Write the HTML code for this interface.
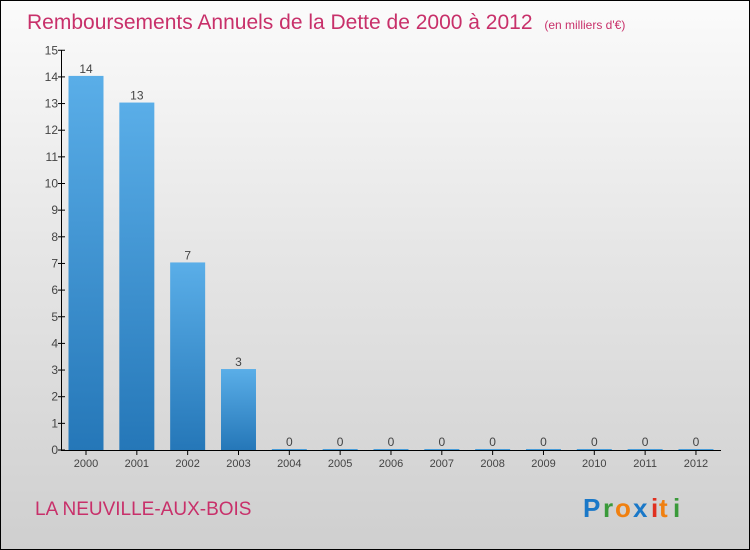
<!DOCTYPE html>
<html><head><meta charset="utf-8"><style>
body{margin:0}
#c{width:748px;height:548px;border:1px solid #000;background:linear-gradient(#fbfbfb,#e6e6e6 45%,#cfcfcf);position:relative;overflow:hidden;font-family:"Liberation Sans",sans-serif}
</style></head><body>
<div id="c">
<svg width="748" height="548">
<defs><linearGradient id="bg" x1="0" y1="0" x2="0" y2="1"><stop offset="0" stop-color="#5aaee8"/><stop offset="1" stop-color="#2577b8"/></linearGradient></defs>
<text x="26" y="28" font-size="21" fill="#c8306a">Remboursements Annuels de la Dette de 2000 à 2012 <tspan font-size="12" dx="6">(en milliers d'€)</tspan></text>
<g id="plot"></g>
<text x="34" y="514" font-size="19" fill="#c8306a">LA NEUVILLE-AUX-BOIS</text>
<g font-size="26" font-weight="bold">
<text x="582" y="516" fill="#1a78c8">P</text><text x="602" y="516" fill="#3a9a3a">r</text><text x="614" y="516" fill="#f08010">o</text><text x="632" y="516" fill="#1a78c8">x</text><text x="650" y="516" fill="#e03020">i</text><text x="658" y="516" fill="#f08010">t</text><text x="672" y="516" fill="#3a9a3a">i</text>
</g>
</svg></div>
<script>
const categories=["2000","2001","2002","2003","2004","2005","2006","2007","2008","2009","2010","2011","2012"];
const values=[14,13,7,3,0,0,0,0,0,0,0,0,0];
const yTicks=[0,1,2,3,4,5,6,7,8,9,10,11,12,13,14,15];
const NS="http://www.w3.org/2000/svg";
const g=document.getElementById('plot');
const y=v=>449-v*26.65, x=i=>85+i*50.83;
function mk(t,a,txt){const e=document.createElementNS(NS,t);for(const k in a)e.setAttribute(k,a[k]);if(txt!==undefined)e.textContent=txt;g.appendChild(e);return e;}
categories.forEach((c,i)=>{
 const v=values[i];
 let r=mk('rect',{x:x(i)-17.5,y:y(v)-1,width:35,height:Math.max(y(0)-y(v)+1,1.5),fill:'url(#bg)'});
 
 
 let l=mk('text',{x:x(i),y:y(v)-4,'text-anchor':'middle','font-size':12,fill:'#444'},String(v));
 
 
 let t=mk('text',{x:x(i),y:466,'text-anchor':'middle','font-size':11,fill:'#444'},c);
 
 
 mk('line',{x1:x(i),x2:x(i),y1:449,y2:454,stroke:'#000'});
});
yTicks.forEach(v=>{
 mk('line',{x1:57,x2:64,y1:y(v),y2:y(v),stroke:'#000'});
 let t=mk('text',{x:57,y:y(v)+4,'text-anchor':'end','font-size':12,fill:'#444'},String(v));
 
 
});
let ya=mk('line',{x1:60.5,x2:60.5,y1:y(15),y2:449,stroke:'#000'});


let xa=mk('line',{x1:60,x2:720,y1:449.5,y2:449.5,stroke:'#000'});


</script>
</body></html>
